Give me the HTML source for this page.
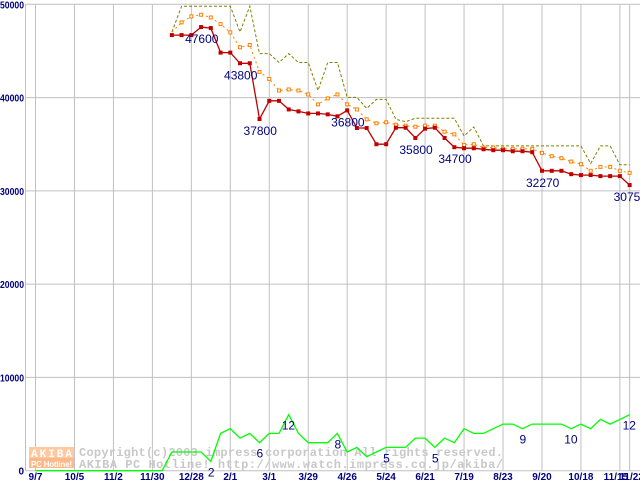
<!DOCTYPE html>
<html><head><meta charset="utf-8"><style>
html,body{margin:0;padding:0;background:#fff;width:640px;height:480px;overflow:hidden}
svg{display:block}
</style></head><body>
<svg id="chart" width="640" height="480" xmlns="http://www.w3.org/2000/svg" font-family="Liberation Sans, sans-serif"></svg>
<script>
// ---- data ----
const xTickLabels = ["9/7","10/5","11/2","11/30","12/28","2/1","3/1","3/29","4/26","5/24","6/21","7/19","8/23","9/20","10/18","11/15","11/22"];
const xTickIndex = [0,4,8,12,16,20,24,28,32,36,40,44,48,52,56,60,61];
const yTicks = [0,10000,20000,30000,40000,50000];
const priceStart = 14;
const minPrice = [46700,46700,46700,47560,47450,44820,44820,43680,43680,37700,39650,39650,38730,38520,38300,38300,38200,37990,38630,36740,36740,35000,35000,
36770,36770,35670,36670,36770,35670,34680,34570,34570,34460,34360,34360,34250,34250,34140,32150,32150,32150,31790,31690,31690,31580,31580,31580,30620];
const avgPrice = [47030,48060,48700,48880,48590,47880,46990,45390,45640,42750,42000,40760,40870,40760,40340,39270,39910,40340,39270,38730,37670,37240,37350,
37090,36990,36880,36990,36990,36340,36060,34920,35000,34640,34640,34500,34500,34500,34500,34070,33720,33500,33140,32860,32150,32570,32570,32150,31930];
const maxPrice = [47030,49800,49800,49800,49800,49800,49800,47030,49800,44710,44710,43760,44710,43760,43760,40760,43760,43760,40020,40020,38840,39800,39800,
37670,37410,37780,37780,37780,37780,37780,35890,36850,34820,34820,34820,34820,34820,34820,34820,34820,34820,34820,34820,32930,34820,34820,32790,32790];
const shopCount = [0,0,0,0,0,0,0,0,0,0,0,0,0,0,4,4,4,4,2,8,9,7,8,6,8,8,12,8,6,6,6,8,4,5,3,4,5,5,5,7,7,5,7,6,9,8,8,9,10,10,9,10,10,10,10,9,10,9,11,10,11,12];
const priceLabels = ["47600","43800","37800","36800","35800","34700","32270","30750"];
const priceLabelIdx = [3,7,9,18,25,29,38,47];
const countLabels = ["2","6","12","8","5","5","9","10","12"];
const countLabelIdx = [18,23,26,31,36,41,50,55,61];
const countScale = 500;

// ---- axes ----
const svg = document.getElementById('chart');
const NS = 'http://www.w3.org/2000/svg';
const X = k => 35.5 + k * 9.74;
const Y = v => 470.7 - v * 0.009328;
function mk(tag, attrs, parent){ const e=document.createElementNS(NS,tag); for(const a in attrs) e.setAttribute(a,attrs[a]); (parent||svg).appendChild(e); return e; }

const grid = mk('g',{});


yTicks.forEach(v=>{
  const l=mk('line',{x1:25.5,x2:640,y1:Y(v),y2:Y(v),stroke:'#c0c0c0','stroke-width':1},grid);
  
  
  const s = v===0 ? '0' : String(v);
  const attrs = {x:24,y:Y(v)+4,'text-anchor':'end','font-size':10,'font-weight':'bold',fill:'#000080'};
  if (v!==0){ attrs.textLength=24; attrs.lengthAdjust='spacingAndGlyphs'; attrs.x=0; attrs['text-anchor']='start'; }
  const t=mk('text',attrs);
  t.textContent = s;
  
  
});
const ax=mk('line',{x1:25.5,x2:25.5,y1:4,y2:471,stroke:'#c0c0c0'},grid);


xTickIndex.forEach((k,i)=>{
  const l=mk('line',{x1:X(k),x2:X(k),y1:4,y2:471,stroke:'#c0c0c0'},grid);
  
  
  const t=mk('text',{x:X(k)+(i===15?-4:i===16?2:0),y:480,'text-anchor':'middle','font-size':10,'font-weight':'bold',fill:'#000080'});
  t.textContent=xTickLabels[i];
  
  
});

// ---- watermark ----
const wm=mk('g',{});


mk('rect',{x:29,y:447,width:45,height:11,fill:'#ffc8a0'},wm);
mk('rect',{x:29,y:458,width:45,height:10,fill:'#ffb888'},wm);
const w1=mk('text',{x:31,y:457,'font-size':11,'font-weight':'bold',fill:'#fff',textLength:41,'font-family':'Liberation Mono, monospace'},wm);w1.textContent='AKIBA';
const w2=mk('text',{x:31,y:467,'font-size':8,'font-weight':'bold',fill:'#fff',textLength:41},wm);w2.textContent='PC Hotline!';
const w3=mk('text',{x:79,y:456,'font-size':12,fill:'#c8c8c8',textLength:424,'font-family':'Liberation Mono, monospace','font-weight':'bold'},wm);w3.textContent='Copyright(c)2003 impress corporation All rights reserved.';
const w4=mk('text',{x:79,y:468,'font-size':12,fill:'#c8c8c8',textLength:424,'font-family':'Liberation Mono, monospace','font-weight':'bold'},wm);w4.textContent='AKIBA PC Hotline! http://www.watch.impress.co.jp/akiba/';

// ---- series ----
function pts(arr, off, f){ return arr.map((v,i)=>X(i+off).toFixed(1)+','+f(v).toFixed(1)).join(' '); }
const gl=mk('polyline',{points:pts(shopCount,0,c=>Y(c*countScale)),fill:'none',stroke:'#00ff00','stroke-width':1.3});


const ol=mk('polyline',{points:pts(maxPrice,priceStart,Y),fill:'none',stroke:'#808000','stroke-width':1,'stroke-dasharray':'3,2'});


const al=mk('polyline',{points:pts(avgPrice,priceStart,Y),fill:'none',stroke:'#ff8000','stroke-width':1,'stroke-dasharray':'2,3'});


avgPrice.forEach((v,i)=>{ if(i===0) return;
  const r=mk('rect',{x:X(i+priceStart)-1.5,y:Y(v)-1.5,width:3,height:3,fill:'#fff',stroke:'#ff8000','stroke-width':1});
  
  
});
const rl=mk('polyline',{points:pts(minPrice,priceStart,Y),fill:'none',stroke:'#c00000','stroke-width':1.3});


minPrice.forEach((v,i)=>{
  const r=mk('rect',{x:X(i+priceStart)-2,y:Y(v)-2,width:4,height:4,fill:'#c00000'});
  
  
});

// ---- value labels ----
priceLabels.forEach((s,j)=>{
  const i=priceLabelIdx[j];
  const t=mk('text',{x:X(i+priceStart)-16,y:Y(minPrice[i])+16,'font-size':12,fill:'#000080'});
  t.textContent=s;
  
  
});
countLabels.forEach((s,j)=>{
  const k=countLabelIdx[j];
  const t=mk('text',{x:X(k)-(s.length>1?7:3),y:Y(shopCount[k]*countScale)+15,'font-size':12,fill:'#000080'});
  t.textContent=s;
  
  
});
</script>
</body></html>
